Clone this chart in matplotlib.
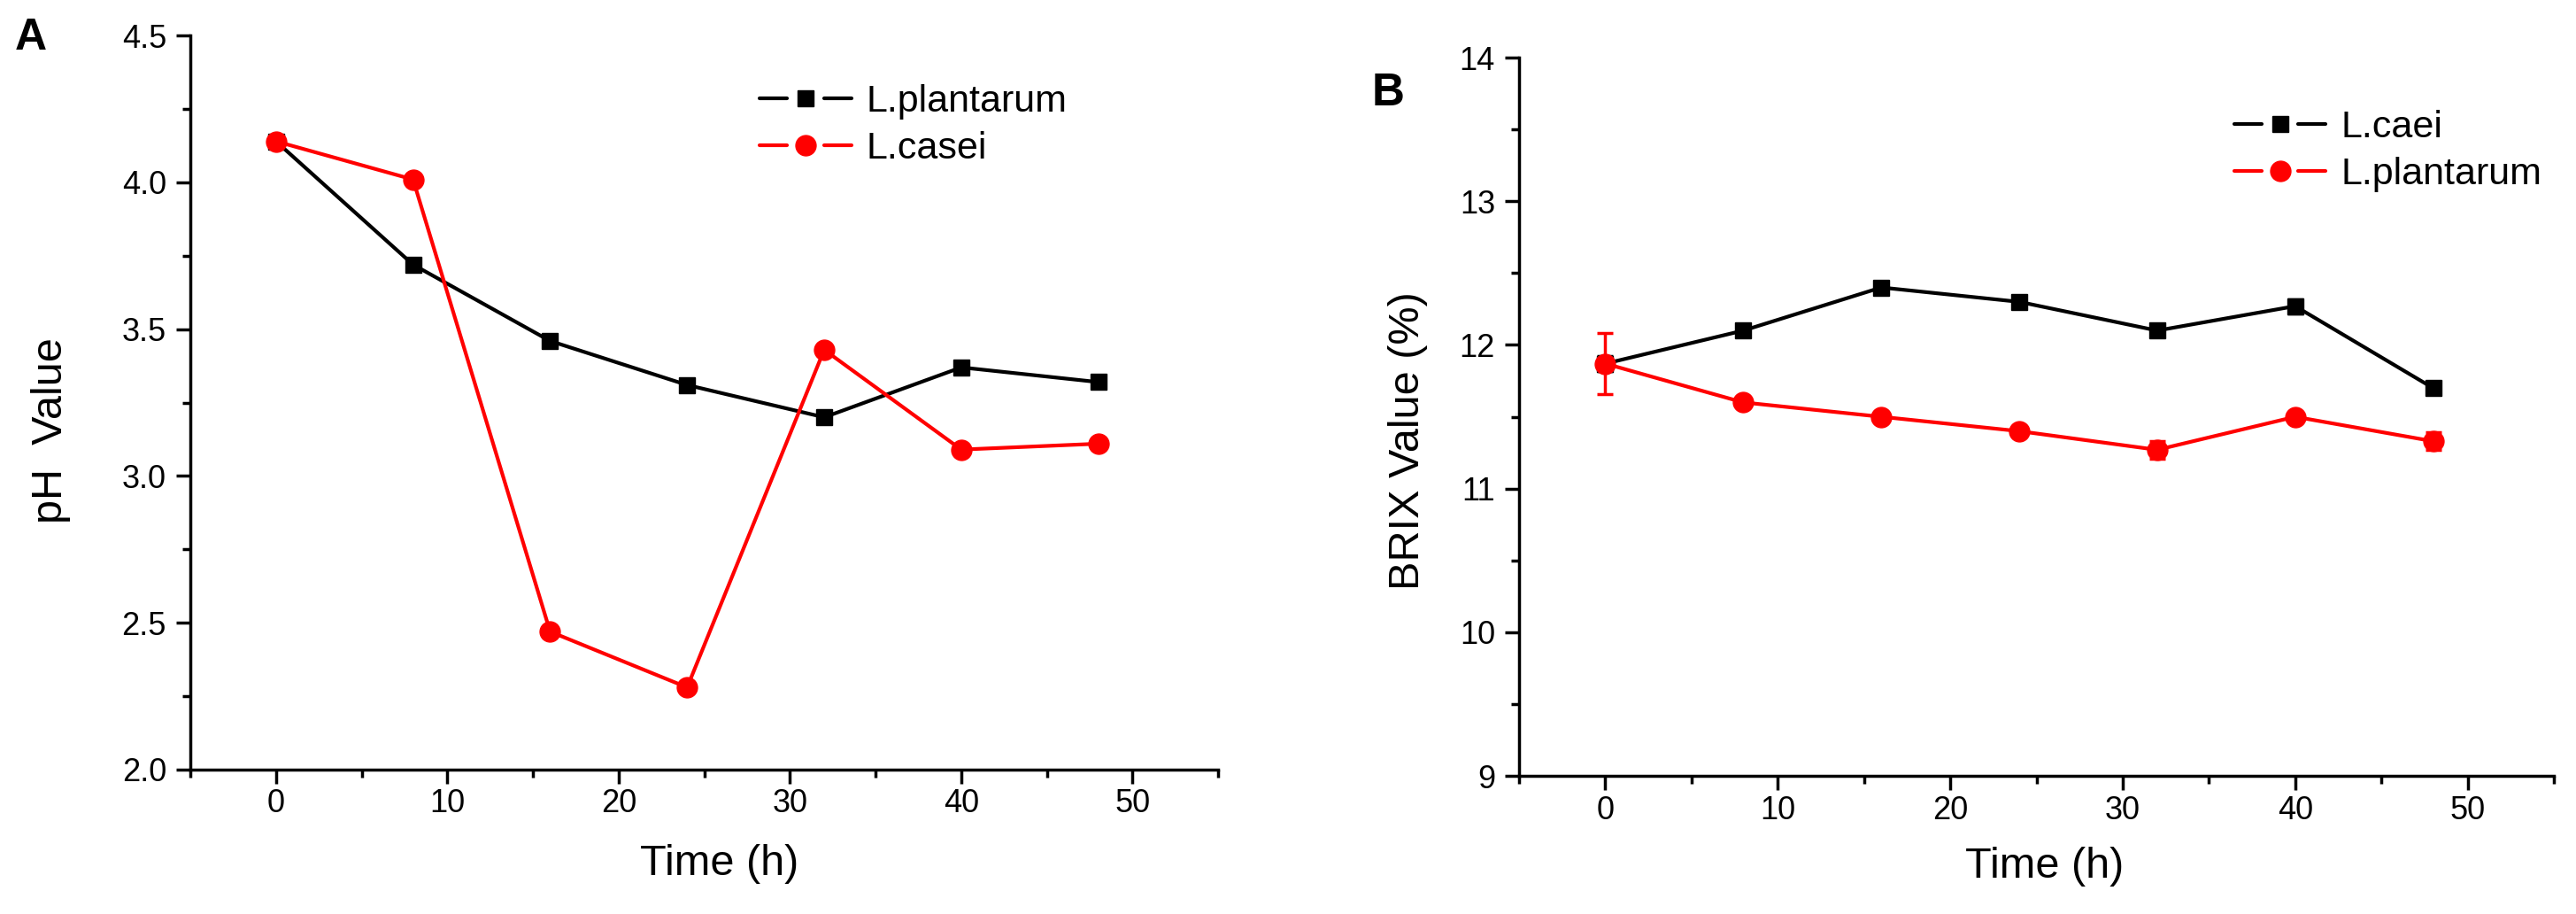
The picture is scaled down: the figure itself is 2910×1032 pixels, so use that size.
import matplotlib
matplotlib.use("Agg")
import matplotlib.pyplot as plt
from matplotlib.ticker import MultipleLocator
from matplotlib.lines import Line2D
from matplotlib.legend_handler import HandlerBase

plt.rcParams['font.family'] = ['Liberation Sans', 'DejaVu Sans']

time_h = [0, 8, 16, 24, 32, 40, 48]

# panel A: pH
ph_plantarum = [4.14, 3.72, 3.46, 3.31, 3.20, 3.37, 3.32]
ph_casei = [4.14, 4.01, 2.47, 2.28, 3.43, 3.09, 3.11]

# panel B: BRIX
brix_caei = [11.87, 12.10, 12.40, 12.30, 12.10, 12.27, 11.70]
brix_caei_err = [0.05, 0.02, 0.02, 0.02, 0.02, 0.05, 0.02]
brix_plantarum = [11.87, 11.60, 11.50, 11.40, 11.27, 11.50, 11.33]
brix_plantarum_err = [0.21, 0.02, 0.02, 0.02, 0.06, 0.03, 0.06]

fig = plt.figure(figsize=(29.1, 10.32), dpi=100)
axA = fig.add_axes([0.0739, 0.158, 0.399, 0.803])
axB = fig.add_axes([0.5897, 0.151, 0.4017, 0.786])

lw = 3.0
slw = 2.5


class GapHandler(HandlerBase):
    # origin-style legend key: line, gap, marker, gap, line
    def create_artists(self, legend, orig, xdescent, ydescent, width, height, fontsize, trans):
        y = height / 2 - ydescent
        x0 = -xdescent
        mid = x0 + width / 2
        gap = width * 0.2
        kw = dict(color=orig.get_color(), lw=orig.get_linewidth(), solid_capstyle='round')
        l1 = Line2D([x0, mid - gap], [y, y], **kw)
        l2 = Line2D([mid + gap, x0 + width], [y, y], **kw)
        m = Line2D([mid], [y], ls='none', marker=orig.get_marker(),
                   markersize=orig.get_markersize(), color=orig.get_color())
        for a in (l1, l2, m):
            a.set_transform(trans)
        return [l1, l2, m]


def style(ax, xlab_x, xlab_y):
    for s in ['top', 'right']:
        ax.spines[s].set_visible(False)
    for s in ['left', 'bottom']:
        ax.spines[s].set_linewidth(slw)
    ax.tick_params(which='major', length=11.5, width=slw, labelsize=26, direction='out')
    ax.tick_params(which='minor', length=6.5, width=slw, direction='out')
    ax.tick_params(axis='x', which='major', pad=4)
    ax.tick_params(axis='y', which='major', pad=8)
    ax.set_xlim(-5, 55)
    ax.xaxis.set_major_locator(MultipleLocator(10))
    ax.xaxis.set_minor_locator(MultipleLocator(5))
    ax.set_xlabel('Time (h)', fontsize=35)
    ax.xaxis.set_label_coords(xlab_x, xlab_y)


# A
hA1, = axA.plot(time_h, ph_plantarum, color='black', marker='s', markersize=13.5, lw=lw)
hA2, = axA.plot(time_h, ph_casei, color='red', marker='o', markersize=16.5, lw=lw)
style(axA, 0.515, -0.101)
axA.set_ylim(2.0, 4.5)
axA.yaxis.set_major_locator(MultipleLocator(0.5))
axA.yaxis.set_minor_locator(MultipleLocator(0.25))
axA.yaxis.set_major_formatter(plt.FormatStrFormatter('%.1f'))
axA.set_ylabel('pH  Value', fontsize=35)
axA.yaxis.set_label_coords(-0.116, 0.462)
axA.legend([hA1, hA2], ['L.plantarum', 'L.casei'], handler_map={Line2D: GapHandler()},
           loc='upper left', bbox_to_anchor=(0.2876, 0.929), bbox_transform=fig.transFigure,
           frameon=False, fontsize=31, borderpad=0, handlelength=2.4, handletextpad=0.4,
           labelspacing=0.3)

# B
eb1 = axB.errorbar(time_h, brix_caei, yerr=brix_caei_err, color='black', marker='s',
                   markersize=13.5, lw=lw, elinewidth=slw, capsize=6.5, capthick=slw)
eb2 = axB.errorbar(time_h, brix_plantarum, yerr=brix_plantarum_err, color='red', marker='o',
                   markersize=16.5, lw=lw, elinewidth=slw, capsize=6.5, capthick=slw)
style(axB, 0.508, -0.0985)
axB.set_ylim(9, 14)
axB.yaxis.set_major_locator(MultipleLocator(1))
axB.yaxis.set_minor_locator(MultipleLocator(0.5))
axB.set_ylabel('BRIX Value (%)', fontsize=35)
axB.yaxis.set_label_coords(-0.088, 0.467)
axB.legend([eb1[0], eb2[0]], ['L.caei', 'L.plantarum'], handler_map={Line2D: GapHandler()},
           loc='upper left', bbox_to_anchor=(0.860, 0.901), bbox_transform=fig.transFigure,
           frameon=False, fontsize=31, borderpad=0, handlelength=2.4, handletextpad=0.4,
           labelspacing=0.3)

fig.text(0.012, 0.958, 'A', fontsize=36, fontweight='bold', va='center', ha='center')
fig.text(0.539, 0.898, 'B', fontsize=37, fontweight='bold', va='center', ha='center')

fig.savefig('out.png', dpi=100)
